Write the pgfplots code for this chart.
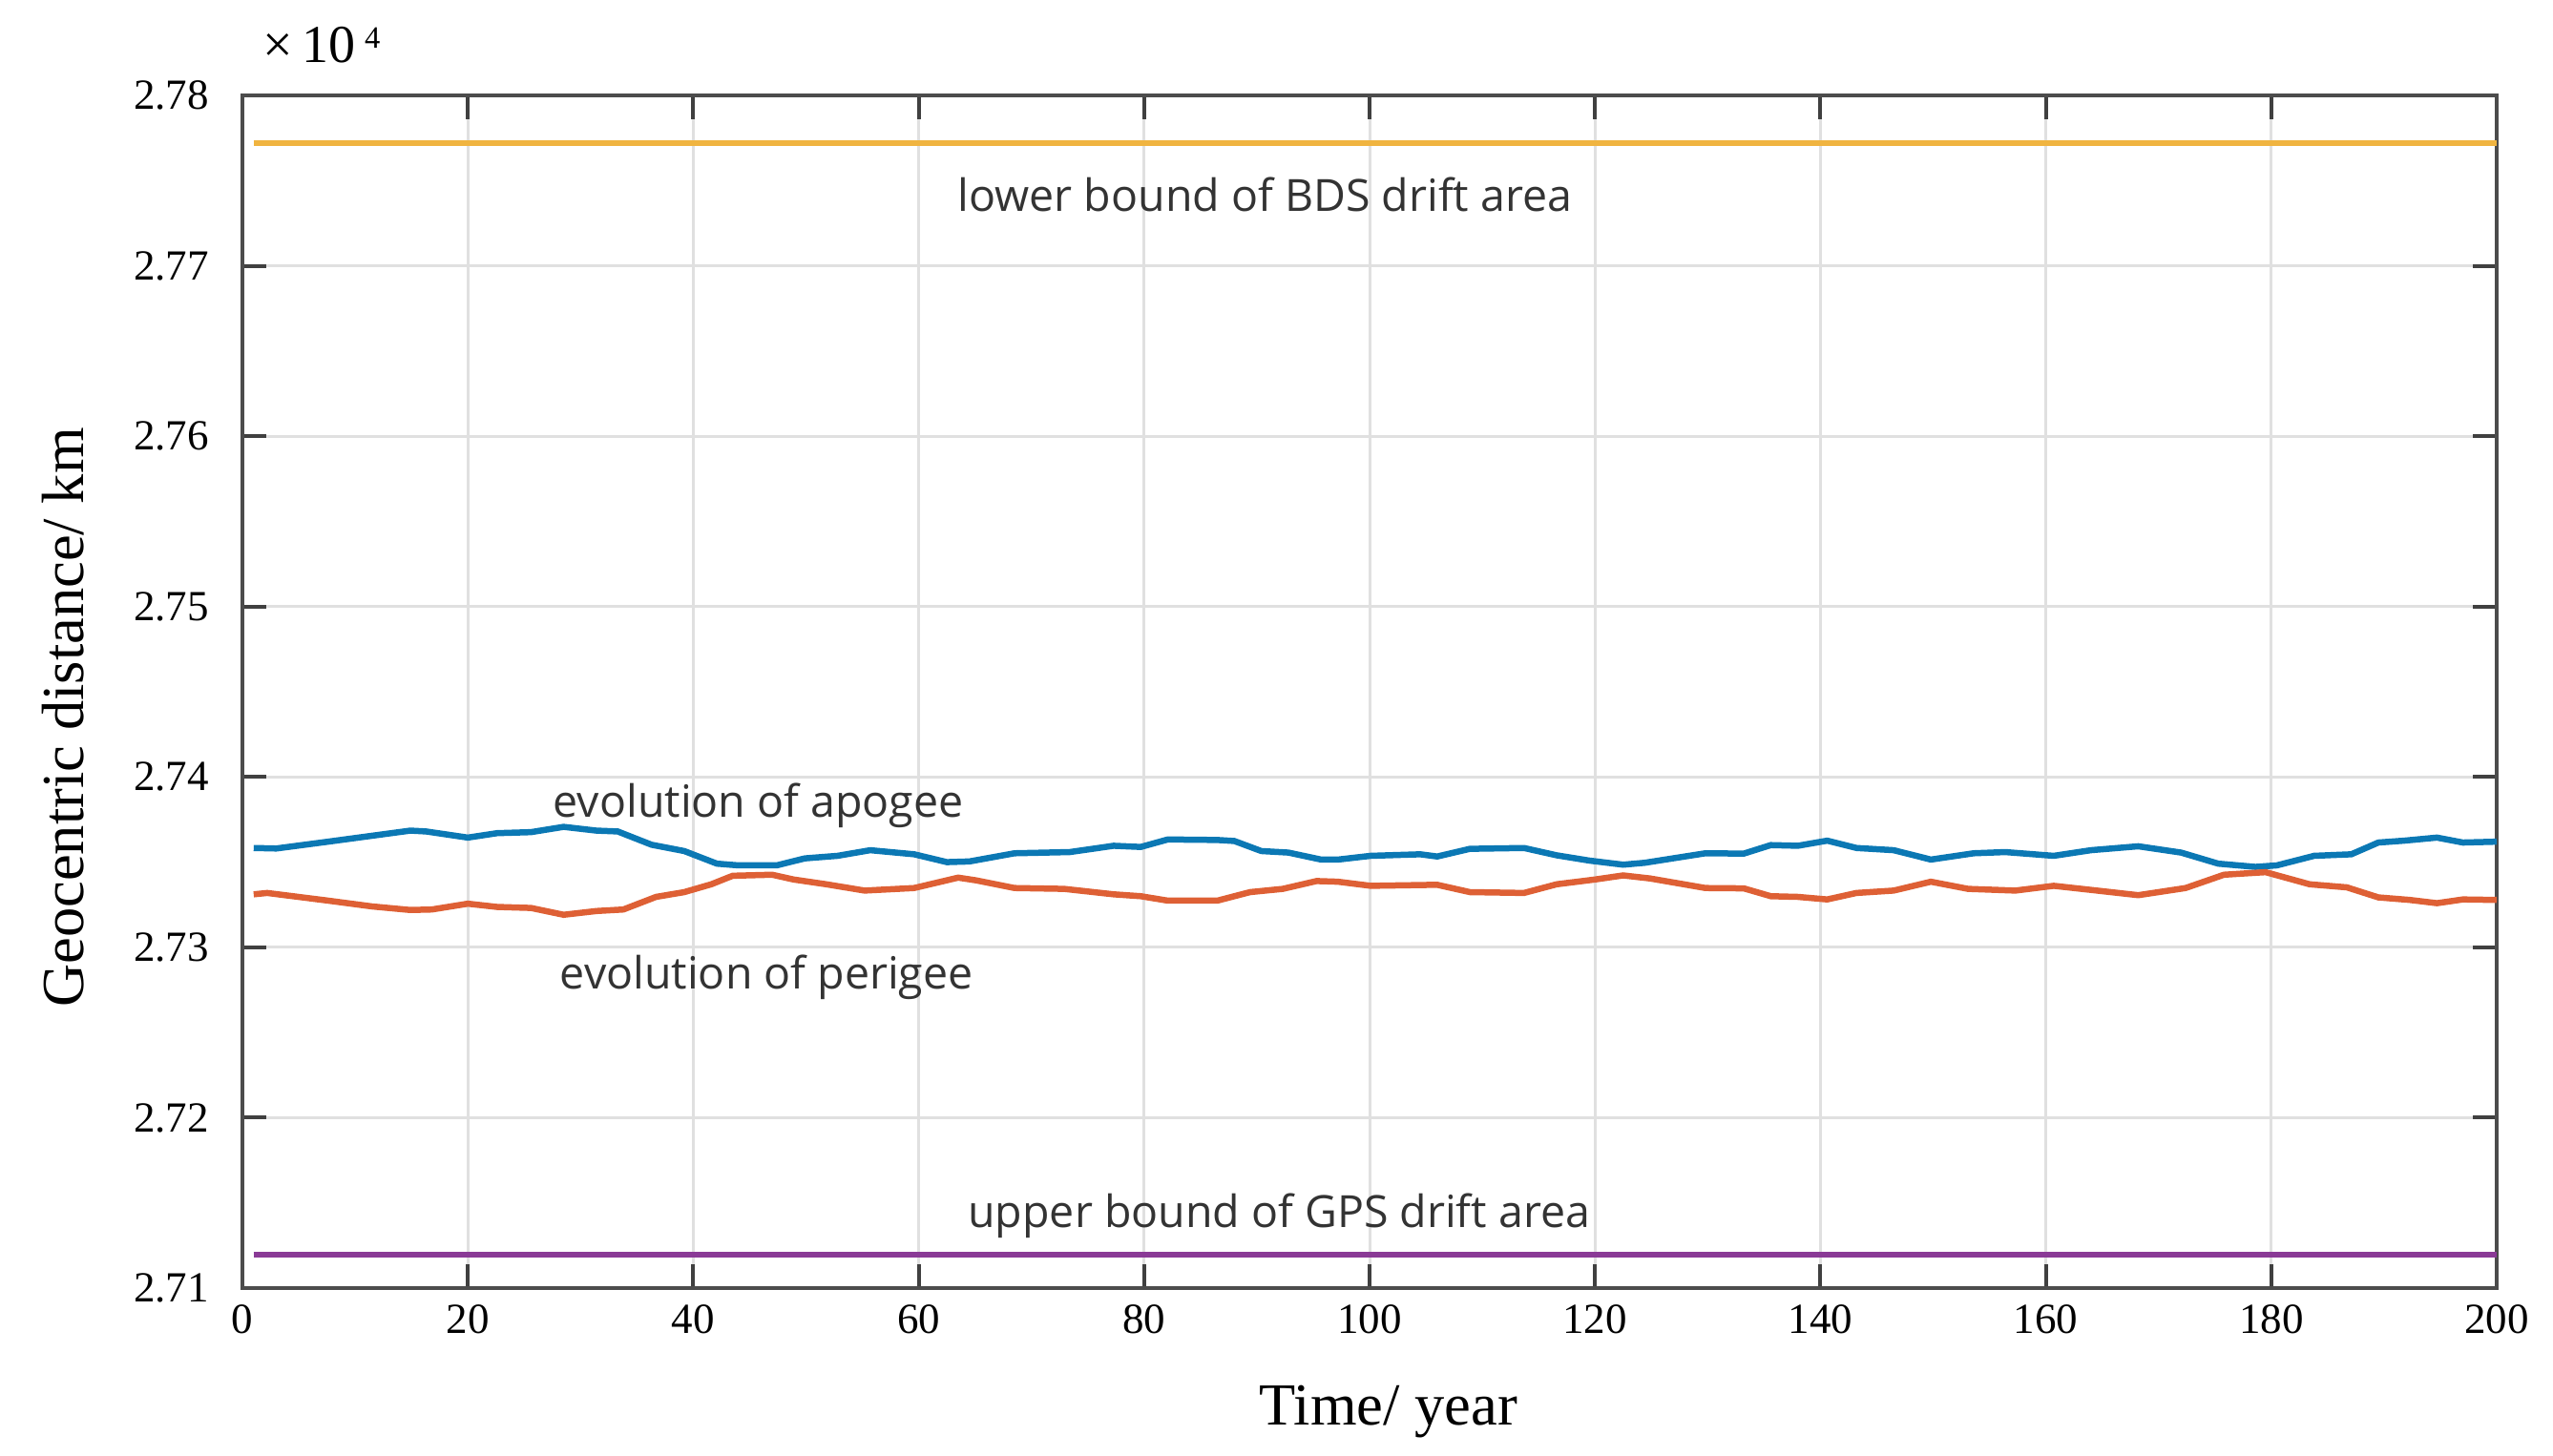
\documentclass[border=0pt]{standalone}
\usepackage{fontspec}
\setmainfont{Liberation Serif}
\newfontfamily\annotfont{Open Sans}
\usepackage{pgfplots}
\pgfplotsset{compat=1.18}

\definecolor{apoblue}{HTML}{0B78B4}
\definecolor{perired}{HTML}{DE6035}
\definecolor{bdsyellow}{HTML}{F0B440}
\definecolor{gpspurple}{HTML}{8A3A96}
\definecolor{annotgray}{HTML}{333333}

\pgfplotstableread{
year   r
1.0    2.73583
3.0    2.73580
7.6    2.73620
14.9   2.73685
16.3   2.73680
20.0   2.73644
22.6   2.73670
25.6   2.73676
28.5   2.73707
31.4   2.73685
33.3   2.73680
36.3   2.73602
39.2   2.73565
42.1   2.73491
44.0   2.73481
47.4   2.73481
49.9   2.73522
52.8   2.73537
55.7   2.73570
59.6   2.73546
62.5   2.73500
64.5   2.73504
68.5   2.73552
73.4   2.73559
77.3   2.73596
79.7   2.73589
82.1   2.73633
86.5   2.73630
88.0   2.73624
90.4   2.73565
92.8   2.73556
95.7   2.73515
97.2   2.73515
100.1  2.73537
104.5  2.73546
106.0  2.73533
108.9  2.73578
113.7  2.73583
116.6  2.73540
119.5  2.73509
122.5  2.73485
124.4  2.73496
129.8  2.73552
133.2  2.73550
135.6  2.73600
138.0  2.73596
140.6  2.73626
143.2  2.73583
146.5  2.73570
149.8  2.73515
153.6  2.73552
156.4  2.73559
160.7  2.73537
164.0  2.73570
168.2  2.73593
172.0  2.73556
175.3  2.73491
178.6  2.73472
180.5  2.73481
183.8  2.73537
187.1  2.73546
189.5  2.73615
191.8  2.73626
194.7  2.73644
197.0  2.73615
200.0  2.73620
}\apogee

\pgfplotstableread{
year   r
1.0    2.73311
2.2    2.73319
7.6    2.73274
11.5   2.73240
14.9   2.73219
16.8   2.73222
20.0   2.73256
22.6   2.73237
25.6   2.73231
28.5   2.73191
31.4   2.73213
33.8   2.73222
36.7   2.73296
39.2   2.73324
41.6   2.73370
43.5   2.73420
47.0   2.73426
48.9   2.73398
51.8   2.73370
55.2   2.73333
59.6   2.73348
63.5   2.73409
65.1   2.73393
68.5   2.73348
72.9   2.73343
77.3   2.73311
79.7   2.73300
82.1   2.73274
86.5   2.73274
89.4   2.73324
92.3   2.73343
95.3   2.73389
97.2   2.73385
100.1  2.73361
106.0  2.73367
108.9  2.73324
113.7  2.73319
116.6  2.73370
120.0  2.73398
122.5  2.73422
124.9  2.73404
129.8  2.73348
133.2  2.73346
135.6  2.73300
138.0  2.73296
140.6  2.73281
143.2  2.73319
146.5  2.73333
149.8  2.73385
153.1  2.73343
157.3  2.73333
160.7  2.73361
164.0  2.73337
168.2  2.73306
172.4  2.73348
175.8  2.73426
179.5  2.73441
183.4  2.73370
186.7  2.73352
189.5  2.73293
192.3  2.73278
194.7  2.73259
197.0  2.73281
200.0  2.73278
}\perigee

\begin{document}
\begin{tikzpicture}
  \useasboundingbox (-50.8pt,-35pt) rectangle (484.2pt,270pt);
  \begin{axis}[
      width=472.4pt, height=250pt, scale only axis,
      xmin=0, xmax=200, ymin=2.71, ymax=2.78,
      xtick={0,20,40,60,80,100,120,140,160,180,200},
      ytick={2.71,2.72,2.73,2.74,2.75,2.76,2.77,2.78},
      yticklabel style={/pgf/number format/fixed,
        /pgf/number format/precision=2,
        /pgf/number format/fixed zerofill, xshift=-3.5pt},
      /pgf/number format/assume math mode=true,
      tick label style={font=\fontsize{9}{9}\selectfont},
      tick align=inside, xtick pos=both, ytick pos=both,
      major tick length=5pt,
      tick style={draw=black!75, line width=0.8pt},
      axis line style={draw=black!70, line width=0.9pt},
      grid=major,
      grid style={draw=black!12, line width=0.6pt},
      xlabel={Time/ year},
      ylabel={Geocentric distance/ km},
      label style={font=\fontsize{12.5}{13}\selectfont},
      xlabel style={at={(rel axis cs:0.5,0)}, anchor=center,
        yshift=-26pt, xshift=4pt},
      % rotated node: yshift moves it left, xshift moves it down
      ylabel style={at={(rel axis cs:0,0.5)}, anchor=center,
        yshift=37.6pt, xshift=-5.4pt},
      clip=false,
    ]
    \addplot[bdsyellow, line width=1.1pt] coordinates {(1,2.7772) (200,2.7772)};
    \addplot[gpspurple, line width=1.1pt] coordinates {(1,2.71197) (200,2.71197)};
    \addplot[apoblue, line width=1.3pt] table[x=year, y=r] {\apogee};
    \addplot[perired, line width=1.3pt] table[x=year, y=r] {\perigee};

    \begin{scope}[every node/.style={font=\annotfont\fontsize{9.3}{10}\selectfont,
        text=annotgray, anchor=base west, inner sep=0pt}]
      \node at (axis cs:63.4,2.77317) {lower bound of BDS drift area};
      \node at (axis cs:27.5,2.73761) {evolution of apogee};
      \node at (axis cs:28.1,2.72755) {evolution of perigee};
      \node at (axis cs:64.3,2.71354) {upper bound of GPS drift area};
    \end{scope}
    \node[anchor=base west, inner sep=0pt, font=\fontsize{11.2}{12}\selectfont]
      at (rel axis cs:0,1) [xshift=4.2pt, yshift=7pt]
      {×\,10\,\raisebox{0.55ex}{\fontsize{6.5}{7}\selectfont 4}};
  \end{axis}
\end{tikzpicture}
\end{document}
